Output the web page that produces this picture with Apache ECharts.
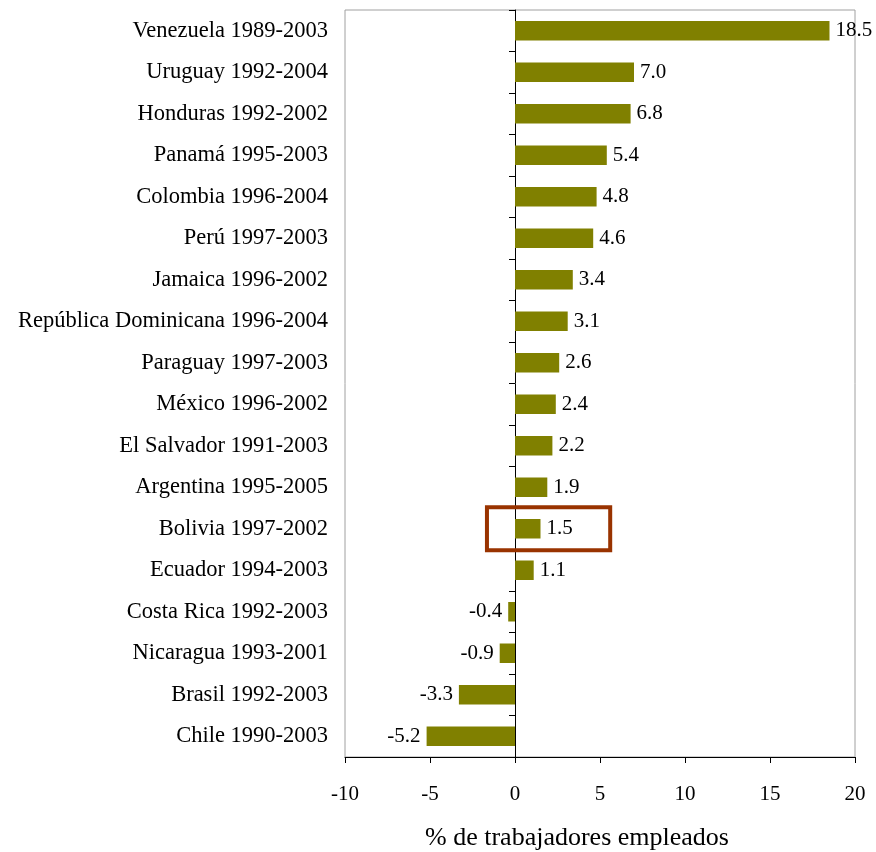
<!DOCTYPE html>
<html><head><meta charset="utf-8">
<script src="https://cdn.jsdelivr.net/npm/echarts@6/dist/echarts.min.js"></script>
<style>html,body{margin:0;padding:0;background:#fff}#c{width:876px;height:852px}</style>
</head><body><div id="c"></div>
<script>
const categories = ["Venezuela 1989-2003","Uruguay 1992-2004","Honduras 1992-2002","Panamá 1995-2003","Colombia 1996-2004","Perú 1997-2003","Jamaica 1996-2002","República Dominicana 1996-2004","Paraguay 1997-2003","México 1996-2002","El Salvador 1991-2003","Argentina 1995-2005","Bolivia 1997-2002","Ecuador 1994-2003","Costa Rica 1992-2003","Nicaragua 1993-2001","Brasil 1992-2003","Chile 1990-2003"];
const values = [18.5,7.0,6.8,5.4,4.8,4.6,3.4,3.1,2.6,2.4,2.2,1.9,1.5,1.1,-0.4,-0.9,-3.3,-5.2];
const xTicks = [-10,-5,0,5,10,15,20];
const highlight = [["Bolivia 1997-2002", -1.65, 5.6]];
const axisTitle = "% de trabajadores empleados";

const FONT = "Liberation Serif";
const chart = echarts.init(document.getElementById('c'));
chart.setOption({
  animation:false,
  grid:{left:345,right:21,top:10,bottom:95,containLabel:false,outerBoundsMode:'none',show:true,borderColor:'#a0a0a0',borderWidth:1,backgroundColor:'transparent'},
  xAxis:{type:'value',min:xTicks[0],max:xTicks[xTicks.length-1],interval:5,
    axisLine:{show:true,onZero:false,lineStyle:{color:'#000',width:1}},
    axisTick:{show:true,length:6,lineStyle:{color:'#000'}},
    splitLine:{show:false},
    axisLabel:{fontFamily:FONT,fontSize:21,color:'#000',margin:27},
    name:axisTitle,nameLocation:'middle',nameGap:68,
    nameTextStyle:{fontFamily:FONT,fontSize:26,color:'#000',padding:[0,46,0,0]}
  },
  yAxis:[
    {type:'category',data:categories,inverse:true,position:'left',
     axisLine:{show:false,onZero:false},axisTick:{show:false},
     axisLabel:{fontFamily:FONT,fontSize:22.5,color:'#000',margin:17}},
    {type:'category',data:categories,inverse:true,position:'left',
     axisLine:{show:true,onZero:true,lineStyle:{color:'#000',width:1}},
     axisTick:{show:true,inside:false,length:6,lineStyle:{color:'#000'}},
     axisLabel:{show:false}}
  ],
  series:[
    {type:'bar',yAxisIndex:0,data:values.map(v=>({value:v,label:{position:v>=0?'right':'left'}})),barWidth:'47%',
     itemStyle:{color:'#808000'},
     label:{show:true,fontFamily:FONT,fontSize:21,color:'#000',distance:6,
       formatter:p=>p.value.toFixed(1)}
    },
    {type:'custom',yAxisIndex:0,data:highlight.map(h=>[h[1],h[2],h[0]]),
     encode:{x:[0,1],y:2},
     renderItem:function(params,api){
       const p0=api.coord([api.value(0),api.value(2)]);
       const p1=api.coord([api.value(1),api.value(2)]);
       const bh=api.size([0,1])[1];
       const h=bh*1.04;
       return {type:'rect',shape:{x:p0[0],y:p0[1]-h/2,width:p1[0]-p0[0],height:h},
         style:{fill:null,stroke:'#993300',lineWidth:4}};
     },z:5}
  ]
});
</script></body></html>
